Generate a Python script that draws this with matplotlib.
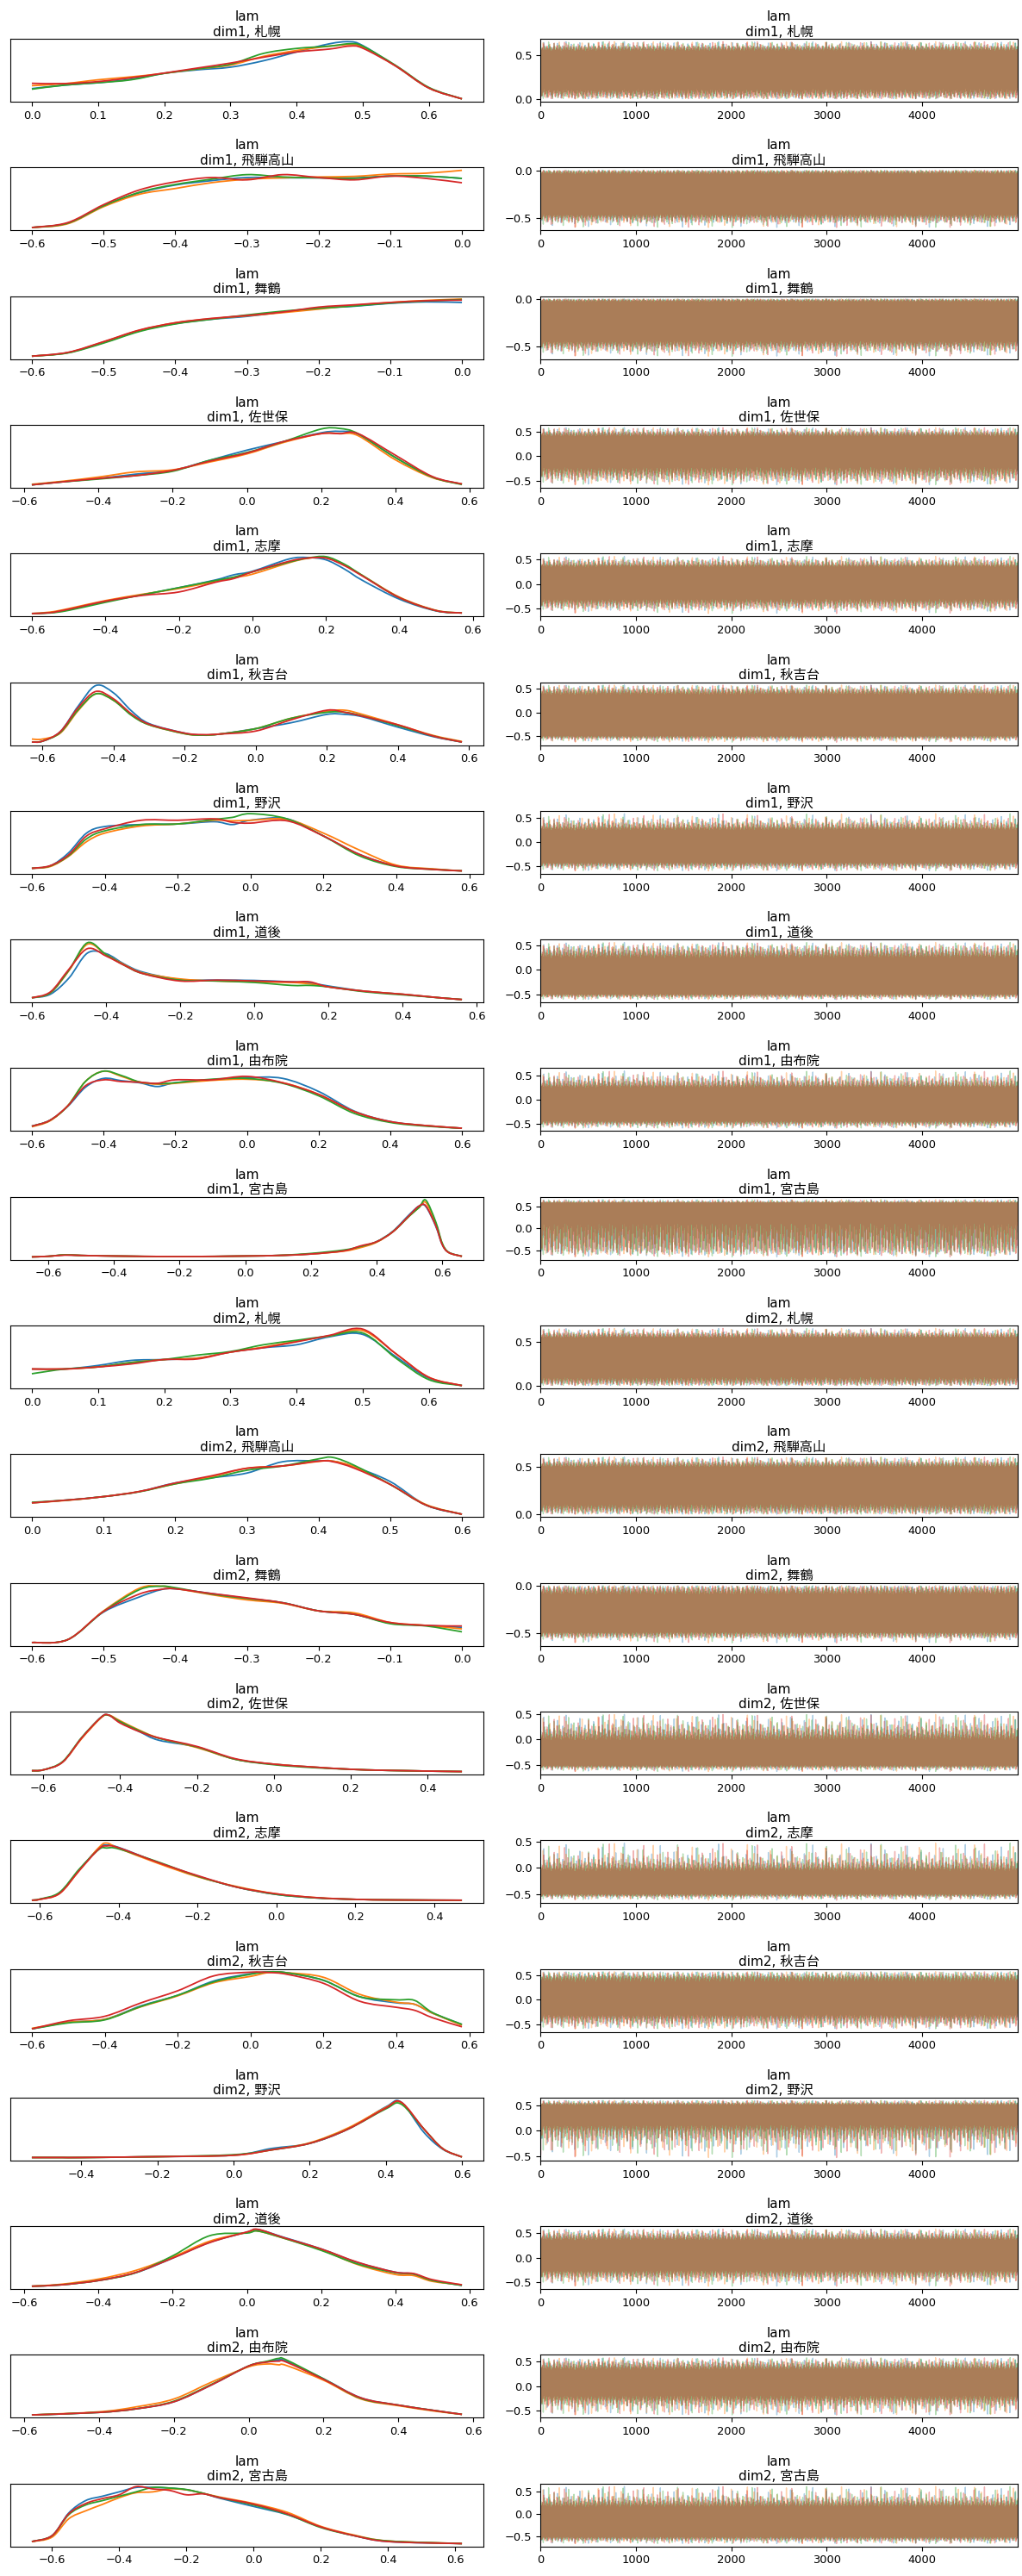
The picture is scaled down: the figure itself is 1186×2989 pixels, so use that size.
import numpy as np
import matplotlib
matplotlib.use('Agg')
import matplotlib.pyplot as plt
from matplotlib.path import Path
from matplotlib.patches import PathPatch
from matplotlib.ticker import MultipleLocator

# names of the 20 rows
places = ['札幌', '飛騨高山', '舞鶴', '佐世保', '志摩', '秋吉台', '野沢', '道後', '由布院', '宮古島']
dims = ['dim1', 'dim2']
var_name = 'lam'
n_draws = 5000
chain_colors = ['C0', 'C1', 'C2', 'C3']

# KDE curves (x positions per row, heights per chain, arbitrary units)
kde_x = [
    [0.0, 0.05, 0.1, 0.15, 0.2, 0.25, 0.3, 0.35, 0.4, 0.45, 0.48, 0.5, 0.55, 0.6, 0.65],
    [-0.6, -0.55, -0.5, -0.45, -0.4, -0.35, -0.3, -0.25, -0.2, -0.15, -0.1, -0.05, 0.0],
    [-0.6, -0.55, -0.5, -0.45, -0.4, -0.35, -0.3, -0.25, -0.2, -0.15, -0.1, -0.05, 0.0],
    [-0.58, -0.5, -0.4, -0.3, -0.2, -0.1, 0.0, 0.1, 0.2, 0.25, 0.3, 0.4, 0.5, 0.58],
    [-0.6, -0.55, -0.5, -0.4, -0.3, -0.2, -0.1, -0.05, 0.0, 0.1, 0.15, 0.2, 0.25, 0.3, 0.4, 0.5, 0.57],
    [-0.63, -0.6, -0.55, -0.5, -0.45, -0.4, -0.35, -0.3, -0.2, -0.15, -0.1, 0.0, 0.1, 0.2, 0.25, 0.3, 0.4, 0.5, 0.58],
    [-0.6, -0.55, -0.5, -0.45, -0.4, -0.3, -0.2, -0.1, -0.05, 0.0, 0.1, 0.2, 0.3, 0.4, 0.5, 0.58],
    [-0.6, -0.55, -0.5, -0.45, -0.4, -0.35, -0.3, -0.2, -0.1, 0.0, 0.1, 0.15, 0.2, 0.3, 0.4, 0.5, 0.56],
    [-0.6, -0.55, -0.5, -0.45, -0.4, -0.35, -0.3, -0.25, -0.2, -0.1, 0.0, 0.1, 0.2, 0.3, 0.4, 0.5, 0.6],
    [-0.65, -0.6, -0.55, -0.5, -0.4, -0.2, 0.0, 0.1, 0.2, 0.3, 0.35, 0.4, 0.45, 0.5, 0.53, 0.55, 0.58, 0.6, 0.62, 0.66],
    [0.0, 0.05, 0.1, 0.15, 0.2, 0.25, 0.3, 0.35, 0.4, 0.45, 0.5, 0.55, 0.6, 0.65],
    [0.0, 0.05, 0.1, 0.15, 0.2, 0.25, 0.3, 0.35, 0.4, 0.42, 0.45, 0.5, 0.55, 0.6],
    [-0.6, -0.55, -0.5, -0.45, -0.42, -0.4, -0.35, -0.3, -0.25, -0.2, -0.15, -0.1, -0.05, 0.0],
    [-0.63, -0.6, -0.55, -0.5, -0.45, -0.43, -0.4, -0.35, -0.3, -0.2, -0.1, 0.0, 0.1, 0.2, 0.3, 0.49],
    [-0.62, -0.6, -0.55, -0.5, -0.45, -0.43, -0.4, -0.3, -0.2, -0.1, 0.0, 0.1, 0.2, 0.3, 0.47],
    [-0.6, -0.5, -0.4, -0.3, -0.2, -0.1, 0.0, 0.05, 0.1, 0.2, 0.3, 0.4, 0.45, 0.5, 0.58],
    [-0.53, -0.45, -0.4, -0.2, 0.0, 0.1, 0.2, 0.3, 0.4, 0.44, 0.5, 0.55, 0.6],
    [-0.58, -0.5, -0.4, -0.3, -0.2, -0.1, 0.0, 0.03, 0.1, 0.2, 0.3, 0.4, 0.45, 0.5, 0.58],
    [-0.58, -0.4, -0.3, -0.2, -0.1, 0.0, 0.05, 0.08, 0.1, 0.2, 0.3, 0.4, 0.5, 0.57],
    [-0.66, -0.6, -0.55, -0.5, -0.45, -0.4, -0.35, -0.3, -0.25, -0.2, -0.15, -0.1, 0.0, 0.1, 0.2, 0.3, 0.4, 0.62],
]

kde_chain0 = [
    [48, 60, 68, 80, 100, 112, 121, 143, 173, 201, 208, 195, 125, 50, 13],
    [13, 28, 88, 133, 160, 175, 186, 185, 185, 185, 191, 191, 183],
    [13, 25, 60, 100, 125, 140, 150, 165, 178, 185, 195, 200, 198],
    [13, 23, 35, 50, 63, 98, 133, 163, 193, 198, 188, 108, 40, 16],
    [13, 16, 26, 55, 78, 103, 130, 148, 160, 203, 208, 200, 168, 128, 63, 22, 15],
    [20, 23, 55, 140, 210, 185, 125, 82, 50, 43, 47, 65, 85, 113, 113, 105, 70, 38, 20],
    [19, 27, 72, 142, 165, 172, 174, 182, 172, 187, 192, 132, 67, 27, 16, 10],
    [18, 30, 85, 170, 168, 132, 105, 80, 78, 77, 72, 68, 58, 40, 30, 18, 12],
    [20, 40, 88, 155, 185, 177, 170, 157, 170, 180, 188, 185, 140, 72, 36, 22, 13],
    [12, 14, 19, 17, 15, 13, 15, 17, 22, 34, 47, 65, 102, 160, 190, 188, 120, 55, 27, 14],
    [71, 71, 83, 100, 103, 108, 128, 143, 153, 180, 188, 113, 40, 15],
    [53, 63, 75, 93, 123, 141, 158, 198, 201, 200, 180, 128, 45, 13],
    [13, 23, 118, 170, 195, 198, 182, 165, 150, 122, 110, 80, 72, 65],
    [13, 16, 43, 128, 200, 208, 183, 150, 120, 96, 53, 36, 26, 18, 14, 10],
    [13, 16, 38, 118, 193, 203, 195, 143, 96, 58, 33, 21, 16, 14, 13],
    [18, 40, 50, 95, 130, 178, 202, 208, 205, 180, 125, 105, 100, 70, 33],
    [11, 11, 11, 14, 19, 43, 61, 111, 190, 207, 100, 40, 13],
    [13, 18, 33, 60, 111, 166, 201, 210, 183, 143, 95, 62, 56, 33, 16],
    [11, 20, 33, 58, 118, 186, 201, 208, 203, 140, 72, 46, 26, 13],
    [20, 40, 118, 160, 175, 190, 205, 205, 203, 197, 185, 168, 140, 112, 70, 40, 20, 13],
]

kde_chain1 = [
    [58, 65, 78, 88, 100, 115, 128, 158, 178, 193, 198, 190, 125, 50, 13],
    [13, 26, 85, 128, 148, 168, 180, 185, 188, 190, 198, 201, 211],
    [13, 25, 62, 102, 128, 142, 152, 163, 175, 188, 198, 205, 210],
    [15, 25, 40, 58, 65, 92, 120, 160, 190, 190, 183, 100, 38, 16],
    [13, 18, 30, 58, 80, 100, 125, 138, 150, 190, 205, 208, 182, 145, 70, 24, 15],
    [30, 30, 50, 125, 182, 160, 112, 78, 48, 43, 47, 65, 100, 123, 127, 113, 78, 42, 22],
    [19, 25, 60, 112, 142, 167, 174, 187, 185, 187, 190, 142, 82, 30, 17, 10],
    [18, 35, 110, 200, 165, 130, 102, 82, 75, 72, 70, 65, 55, 40, 30, 18, 12],
    [18, 38, 90, 175, 210, 192, 172, 165, 168, 178, 182, 170, 130, 70, 35, 22, 13],
    [12, 14, 19, 17, 15, 13, 15, 17, 22, 32, 44, 63, 100, 155, 185, 202, 130, 58, 27, 14],
    [71, 71, 78, 93, 103, 108, 128, 145, 165, 183, 201, 123, 43, 15],
    [53, 62, 75, 93, 120, 145, 175, 183, 199, 200, 180, 118, 47, 13],
    [13, 23, 122, 200, 207, 200, 178, 160, 148, 122, 115, 82, 72, 60],
    [13, 16, 43, 126, 198, 208, 188, 155, 128, 94, 53, 36, 26, 18, 14, 10],
    [13, 16, 36, 115, 195, 210, 192, 140, 94, 60, 35, 22, 16, 14, 13],
    [20, 40, 50, 92, 128, 172, 193, 206, 205, 190, 133, 107, 100, 70, 30],
    [11, 11, 11, 14, 19, 38, 63, 115, 188, 205, 112, 42, 13],
    [13, 20, 38, 68, 115, 170, 200, 205, 180, 140, 88, 54, 50, 30, 18],
    [11, 22, 40, 68, 128, 183, 193, 190, 188, 135, 68, 44, 24, 13],
    [20, 35, 98, 125, 147, 170, 187, 190, 200, 197, 185, 172, 150, 120, 72, 42, 22, 13],
]

kde_chain2 = [
    [46, 60, 68, 78, 100, 115, 131, 168, 185, 193, 201, 193, 127, 52, 13],
    [13, 28, 88, 135, 162, 180, 196, 188, 185, 183, 191, 191, 183],
    [13, 24, 58, 98, 124, 140, 155, 168, 178, 186, 196, 203, 208],
    [13, 23, 33, 45, 60, 98, 125, 163, 206, 208, 190, 108, 40, 14],
    [13, 15, 24, 52, 78, 103, 128, 140, 158, 192, 206, 211, 185, 145, 68, 23, 15],
    [20, 23, 52, 128, 182, 160, 110, 78, 48, 43, 47, 65, 100, 120, 120, 108, 75, 40, 20],
    [19, 27, 62, 122, 150, 172, 174, 190, 197, 210, 192, 132, 62, 25, 15, 10],
    [18, 35, 112, 205, 165, 128, 100, 78, 75, 70, 60, 60, 55, 38, 28, 18, 12],
    [20, 40, 90, 175, 210, 195, 173, 167, 170, 182, 185, 168, 125, 64, 33, 20, 13],
    [12, 14, 19, 17, 15, 13, 15, 17, 24, 36, 48, 65, 100, 155, 185, 210, 135, 60, 28, 14],
    [55, 71, 78, 93, 103, 118, 130, 153, 168, 183, 193, 108, 35, 15],
    [55, 63, 75, 92, 120, 140, 168, 183, 208, 213, 185, 118, 45, 13],
    [13, 23, 120, 195, 207, 202, 180, 165, 150, 122, 110, 78, 70, 50],
    [13, 16, 45, 130, 200, 207, 185, 153, 127, 96, 53, 34, 24, 18, 14, 10],
    [13, 17, 40, 120, 188, 193, 190, 145, 96, 58, 33, 21, 16, 14, 13],
    [18, 38, 48, 93, 130, 175, 200, 208, 205, 180, 125, 115, 113, 72, 33],
    [11, 11, 11, 14, 21, 38, 61, 111, 183, 200, 112, 42, 13],
    [13, 18, 33, 60, 119, 189, 198, 205, 180, 138, 90, 60, 55, 33, 16],
    [11, 20, 33, 60, 120, 186, 203, 213, 208, 140, 70, 46, 26, 13],
    [20, 40, 112, 145, 160, 175, 190, 205, 203, 198, 185, 170, 145, 113, 68, 40, 22, 13],
]

kde_chain3 = [
    [66, 65, 72, 85, 101, 118, 135, 155, 173, 183, 193, 186, 125, 50, 13],
    [13, 30, 92, 143, 171, 186, 178, 196, 186, 178, 191, 183, 168],
    [13, 26, 63, 103, 128, 143, 153, 165, 182, 190, 198, 204, 206],
    [13, 23, 35, 45, 63, 95, 123, 163, 190, 190, 190, 116, 42, 16],
    [13, 16, 28, 56, 76, 88, 122, 135, 158, 195, 206, 206, 180, 143, 68, 23, 15],
    [20, 23, 55, 135, 190, 165, 115, 80, 50, 45, 47, 57, 95, 127, 120, 107, 78, 40, 20],
    [19, 28, 65, 132, 157, 187, 187, 192, 180, 177, 185, 132, 67, 27, 15, 10],
    [18, 38, 115, 185, 160, 128, 100, 75, 78, 75, 72, 72, 55, 40, 30, 18, 12],
    [20, 40, 90, 160, 180, 174, 172, 168, 180, 180, 192, 170, 130, 70, 36, 22, 13],
    [12, 14, 18, 17, 15, 13, 15, 17, 22, 33, 50, 65, 100, 157, 190, 190, 122, 55, 27, 14],
    [71, 71, 78, 88, 103, 105, 128, 143, 163, 185, 206, 123, 43, 15],
    [53, 63, 75, 93, 123, 148, 175, 183, 200, 198, 175, 118, 45, 13],
    [13, 23, 120, 180, 196, 198, 182, 167, 150, 122, 110, 82, 72, 70],
    [13, 16, 43, 128, 200, 208, 180, 150, 128, 98, 55, 36, 26, 18, 14, 10],
    [13, 16, 36, 115, 190, 200, 194, 143, 98, 58, 35, 22, 16, 14, 13],
    [18, 45, 60, 105, 145, 195, 207, 206, 200, 170, 110, 90, 80, 55, 25],
    [11, 11, 11, 14, 19, 38, 61, 111, 186, 207, 112, 42, 13],
    [13, 18, 33, 61, 111, 165, 202, 211, 182, 143, 96, 62, 57, 36, 18],
    [11, 20, 33, 58, 118, 186, 200, 203, 200, 138, 72, 46, 26, 13],
    [20, 40, 115, 150, 167, 180, 208, 200, 195, 180, 183, 170, 148, 115, 70, 40, 20, 13],
]

# quasi-random steps used to turn each chain's read density into 5000 draws
chain_steps = [0.6180339887, 0.4142135624, 0.7320508076, 0.3027756377]
chain_starts = [0.13, 0.57, 0.31, 0.79]

###########
# plotting
###########
plt.rcParams.update({
    'font.family': ['DejaVu Sans', 'Noto Sans CJK JP'],
    'xtick.labelsize': 9.4,
    'ytick.labelsize': 9.4,
    'axes.linewidth': 0.8,
})

fig_w, fig_h = 1186, 2989
fig = plt.figure(figsize=(fig_w / 100, fig_h / 100), dpi=100)

row_top0 = 45
row_pitch = 149.3
ax_h = 73


def draws_from_density(xs, dens, step, start):
    xs = np.asarray(xs, dtype=float)
    d = np.asarray(dens, dtype=float)
    cdf = np.concatenate([[0], np.cumsum(0.5 * (d[1:] + d[:-1]) * np.diff(xs))])
    cdf /= cdf[-1]
    u = (start + step * np.arange(n_draws)) % 1.0
    return np.interp(u, cdf, xs)


def smooth_path(xs, ys):
    # bezier path through the read points (Catmull-Rom style handles)
    p = np.column_stack([xs, ys]).astype(float)
    ext = np.vstack([p[0], p, p[-1]])
    verts = [p[0]]
    codes = [Path.MOVETO]
    for i in range(len(p) - 1):
        p0, p1, p2, p3 = ext[i], ext[i + 1], ext[i + 2], ext[i + 3]
        verts += [p1 + (p2 - p0) / 6, p2 - (p3 - p1) / 6, p2]
        codes += [Path.CURVE4] * 3
    return Path(verts, codes)


kde_chains = [kde_chain0, kde_chain1, kde_chain2, kde_chain3]
draw_idx = np.arange(n_draws)

for row in range(len(dims) * len(places)):
    dim = dims[row // len(places)]
    place = places[row % len(places)]
    title = f'{var_name}\n{dim}, {place}'

    top = row_top0 + row_pitch * row
    bottom = 1 - (top + ax_h) / fig_h
    ax_kde = fig.add_axes([12 / fig_w, bottom, 549 / fig_w, ax_h / fig_h])
    ax_tr = fig.add_axes([627 / fig_w, bottom, 554 / fig_w, ax_h / fig_h])

    xs = kde_x[row]
    base = min(min(ch[row]) for ch in kde_chains)
    for c, chain in enumerate(kde_chains):
        ax_kde.add_patch(PathPatch(smooth_path(xs, chain[row]), fill=False,
                                   edgecolor=chain_colors[c], lw=1.3))
        dens = np.maximum(np.asarray(chain[row], dtype=float) - base + 1, 0.5)
        draws = draws_from_density(xs, dens, chain_steps[c], chain_starts[c])
        ax_tr.plot(draw_idx, draws, color=chain_colors[c], lw=1.0, alpha=0.35)

    ax_kde.autoscale_view()
    ax_kde.set_yticks([])
    ax_kde.set_title(title, fontsize=11, pad=2.5)

    ax_tr.set_xlim(0, n_draws - 1)
    ax_tr.xaxis.set_major_locator(MultipleLocator(1000))
    ax_tr.yaxis.set_major_locator(MultipleLocator(0.5))
    ax_tr.set_title(title, fontsize=11, pad=2.5)

fig.savefig('out.png', dpi=100)
